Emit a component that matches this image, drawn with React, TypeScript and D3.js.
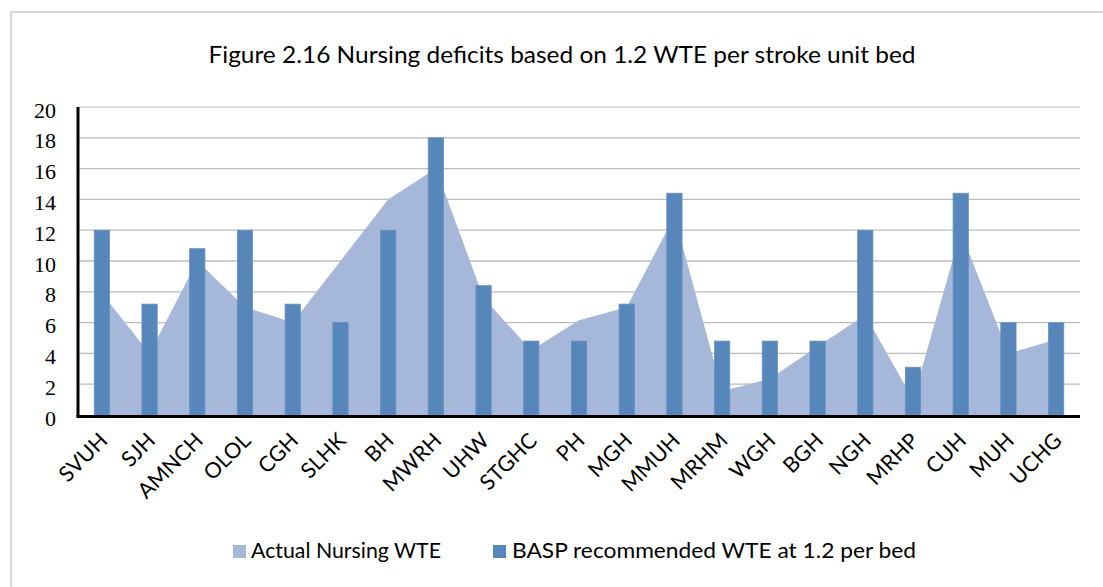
import React from "react";
import * as d3 from "d3";

const categories = ["SVUH","SJH","AMNCH","OLOL","CGH","SLHK","BH","MWRH","UHW","STGHC","PH","MGH","MMUH","MRHM","WGH","BGH","NGH","MRHP","CUH","MUH","UCHG"];
const actualNursing = [7.9, 4.0, 10.0, 7.0, 6.0, 10.0, 14.0, 16.0, 7.6, 4.2, 6.15, 7.0, 12.9, 1.55, 2.35, 4.45, 6.5, 1.0, 11.9, 4.0, 4.9];
const baspRecommended = [12, 7.2, 10.8, 12, 7.2, 6, 12, 18, 8.4, 4.8, 4.8, 7.2, 14.4, 4.8, 4.8, 4.8, 12, 3.1, 14.4, 6, 6];
const yTicks = [0, 2, 4, 6, 8, 10, 12, 14, 16, 18, 20];
const title = "Figure 2.16 Nursing deficits based on 1.2 WTE per stroke unit bed";
const legendLabels = ["Actual Nursing WTE", "BASP recommended WTE at 1.2 per bed"];

const W = 1103, H = 587;
const left = 78, right = 1080, top = 107, bottom = 415;
const areaColor = "#a5b8d9";
const barColor = "#5787ba";
const sans = "Lato, 'Open Sans', sans-serif";

export default function App() {
  const x = d3.scaleBand<string>().domain(categories).range([left, right]).padding(0);
  const y = d3.scaleLinear().domain([0, 20]).range([bottom, top]);
  const bw = x.bandwidth();
  const barW = bw * 0.32;
  const cx = (c: string) => (x(c) as number) + bw / 2;

  const areaGen = d3.area<number>()
    .x((_, i) => cx(categories[i]))
    .y0(y(0))
    .y1((d) => y(d));

  return (
    <svg width={W} height={H} style={{ position: "absolute", left: 0, top: 0, background: "#fff" }}>
      <rect x={11} y={12} width={W + 20} height={H + 20} fill="#fff" stroke="#d9d9d9" strokeWidth={2} />
      <text x={562} y={63} textAnchor="middle" fontFamily={sans} fontSize={23} fill="#000"
        textLength={707} lengthAdjust="spacingAndGlyphs">{title}</text>

      {yTicks.map((t) => (
        <g key={t}>
          {t > 0 && (
            <line x1={left} x2={right} y1={y(t)} y2={y(t)} stroke={t === 20 ? "#d4d4d4" : "#bcbcbc"} strokeWidth={1.3} />
          )}
          <text x={56} y={y(t) + 10.5} textAnchor="end" fontFamily="'Liberation Serif', serif" fontSize={22} fill="#000">{t}</text>
        </g>
      ))}

      <path d={areaGen(actualNursing) || ""} fill={areaColor} />

      {categories.map((c, i) => (
        <rect key={c} x={cx(c) - barW / 2} y={y(baspRecommended[i])} width={barW}
          height={y(0) - y(baspRecommended[i])} fill={barColor} stroke="#6690c0" strokeWidth={0.8} />
      ))}

      <line x1={left} x2={left} y1={top} y2={bottom + 1.5} stroke="#000" strokeWidth={3} />
      <line x1={left - 1.5} x2={right} y1={bottom + 1.5} y2={bottom + 1.5} stroke="#000" strokeWidth={3} />

      {categories.map((c) => (
        <text key={c} transform={`translate(${cx(c) + 7},${442}) rotate(-45)`} textAnchor="end"
          fontFamily={sans} fontSize={21.5} fill="#000">{c}</text>
      ))}

      <rect x={233} y={545} width={13} height={13} fill={areaColor} />
      <text x={251} y={558} fontFamily={sans} fontSize={21} fill="#000" textLength={190} lengthAdjust="spacingAndGlyphs">{legendLabels[0]}</text>
      <rect x={493} y={545} width={13} height={13} fill={barColor} />
      <text x={512} y={558} fontFamily={sans} fontSize={21} fill="#000" textLength={404} lengthAdjust="spacingAndGlyphs">{legendLabels[1]}</text>
    </svg>
  );
}
